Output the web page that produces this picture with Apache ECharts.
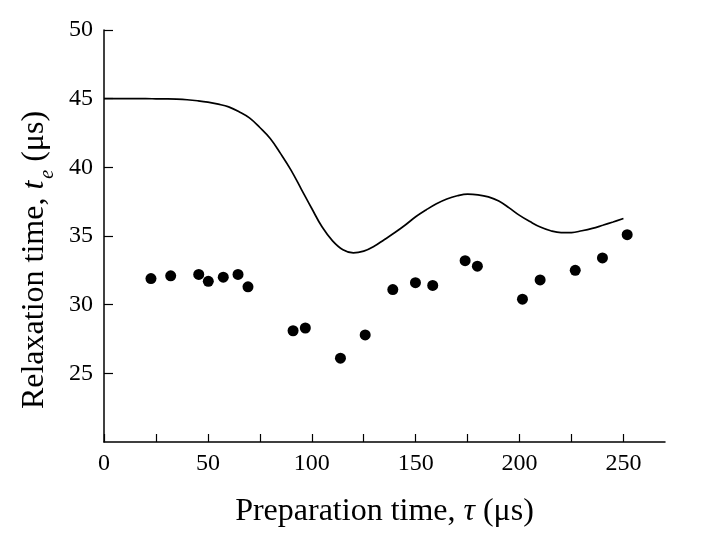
<!DOCTYPE html>
<html lang="en">
<head>
    <meta charset="UTF-8">
    <title>Relaxation time</title>
    <style>
        html, body { margin: 0; padding: 0; background: #fff; }
    </style>
</head>
<body>
<div id="chart-wrap" style="height: 537px;width: 710px;"></div>
</body>
<script src="https://cdn.jsdelivr.net/npm/echarts@6/dist/echarts.min.js"></script>
<script>
    // measured points (dots)
    var pointX = [22.6, 32.1, 45.6, 50.2, 57.4, 64.5, 69.3, 91.0, 96.9, 113.8, 125.7,
        139.0, 149.9, 158.2, 173.8, 179.7, 201.4, 209.9, 226.8, 239.9, 251.8];
    var pointY = [31.9, 32.1, 32.2, 31.7, 32.0, 32.2, 31.3, 28.1, 28.3, 26.1, 27.8,
        31.1, 31.6, 31.4, 33.2, 32.8, 30.4, 31.8, 32.5, 33.4, 35.1];

    // calculated curve, read every 5 us
    var curveX = [0, 5, 10, 15, 20, 25, 30, 35, 40, 45, 50, 55, 60, 65, 70, 75, 80, 85, 90, 95,
        100, 105, 110, 115, 120, 125, 130, 135, 140, 145, 150, 155, 160, 165, 170, 175, 180,
        185, 190, 195, 200, 205, 210, 215, 220, 225, 230, 235, 240, 245, 250];
    var curveY = [45.0, 45.0, 45.0, 45.0, 45.0, 44.99, 44.98, 44.96, 44.92, 44.85, 44.75, 44.6, 44.4, 44.05, 43.6, 42.9, 42.1, 41.0, 39.8, 38.4,
        37.0, 35.65, 34.65, 34.0, 33.77, 33.9, 34.25, 34.75, 35.25, 35.8, 36.4, 36.9, 37.35, 37.7, 37.93, 38.05, 38.0,
        37.85, 37.55, 37.05, 36.5, 36.05, 35.65, 35.38, 35.25, 35.25, 35.38, 35.55, 35.78, 36.02, 36.27];

    // axis ticks
    var xTicks = [0, 25, 50, 75, 100, 125, 150, 175, 200, 225, 250];
    var xLabels = [0, 50, 100, 150, 200, 250];
    var yTicks = [25, 30, 35, 40, 45, 50];

    var font = 'Liberation Serif';

    var chart = echarts.init(document.getElementById('chart-wrap'));

    var dots = pointX.map(function (x, i) { return [x, pointY[i]]; });
    var curve = curveX.map(function (x, i) { return [x, curveY[i]]; });

    var option = {
        backgroundColor: '#fff',
        animation: false,
        grid: {left: 104, right: 45, top: 30, bottom: 95},
        xAxis: {
            type: 'value',
            min: 0,
            max: 270,
            splitLine: {show: false},
            axisLine: {lineStyle: {color: '#000', width: 1.5}},
            axisTick: {inside: true, length: 8, customValues: xTicks, lineStyle: {color: '#000', width: 1.2}},
            axisLabel: {customValues: xLabels, color: '#000', fontFamily: font, fontSize: 24, margin: 10},
            name: '{a|Preparation time, }{i|τ}{a| (μs)}',
            nameLocation: 'middle',
            nameGap: 54,
            nameTextStyle: {
                rich: {
                    a: {fontFamily: font, fontSize: 32, color: '#000'},
                    i: {fontFamily: font, fontSize: 32, color: '#000', fontStyle: 'italic'}
                }
            }
        },
        yAxis: {
            type: 'value',
            min: 20,
            max: 50,
            splitLine: {show: false},
            axisLine: {show: true, lineStyle: {color: '#000', width: 1.5}},
            axisTick: {show: true, inside: true, length: 9, customValues: yTicks, lineStyle: {color: '#000', width: 1.2}},
            axisLabel: {customValues: yTicks, color: '#000', fontFamily: font, fontSize: 24, margin: 11},
            name: '{a|Relaxation time, }{i|t}{s|e}{a| (μs)}',
            nameLocation: 'middle',
            nameRotate: 90,
            nameGap: 45,
            nameTextStyle: {
                padding: [0, 48, 0, 0],
                rich: {
                    a: {fontFamily: font, fontSize: 32, color: '#000', verticalAlign: 'bottom', padding: [0, 0, 8, 0]},
                    i: {fontFamily: font, fontSize: 32, color: '#000', fontStyle: 'italic', verticalAlign: 'bottom', padding: [0, 0, 8, 0]},
                    s: {fontFamily: font, fontSize: 20, color: '#000', fontStyle: 'italic', verticalAlign: 'bottom', padding: [0, 0, 0, 2]}
                }
            }
        },
        series: [
            {
                name: 'curve',
                type: 'line',
                data: curve,
                smooth: 0.4,
                symbol: 'none',
                lineStyle: {color: '#000', width: 1.7}
            },
            {
                name: 'measured',
                type: 'scatter',
                data: dots,
                symbol: 'circle',
                symbolSize: 11,
                itemStyle: {color: '#000', opacity: 1}
            }
        ]
    };

    chart.setOption(option);
</script>
</html>
